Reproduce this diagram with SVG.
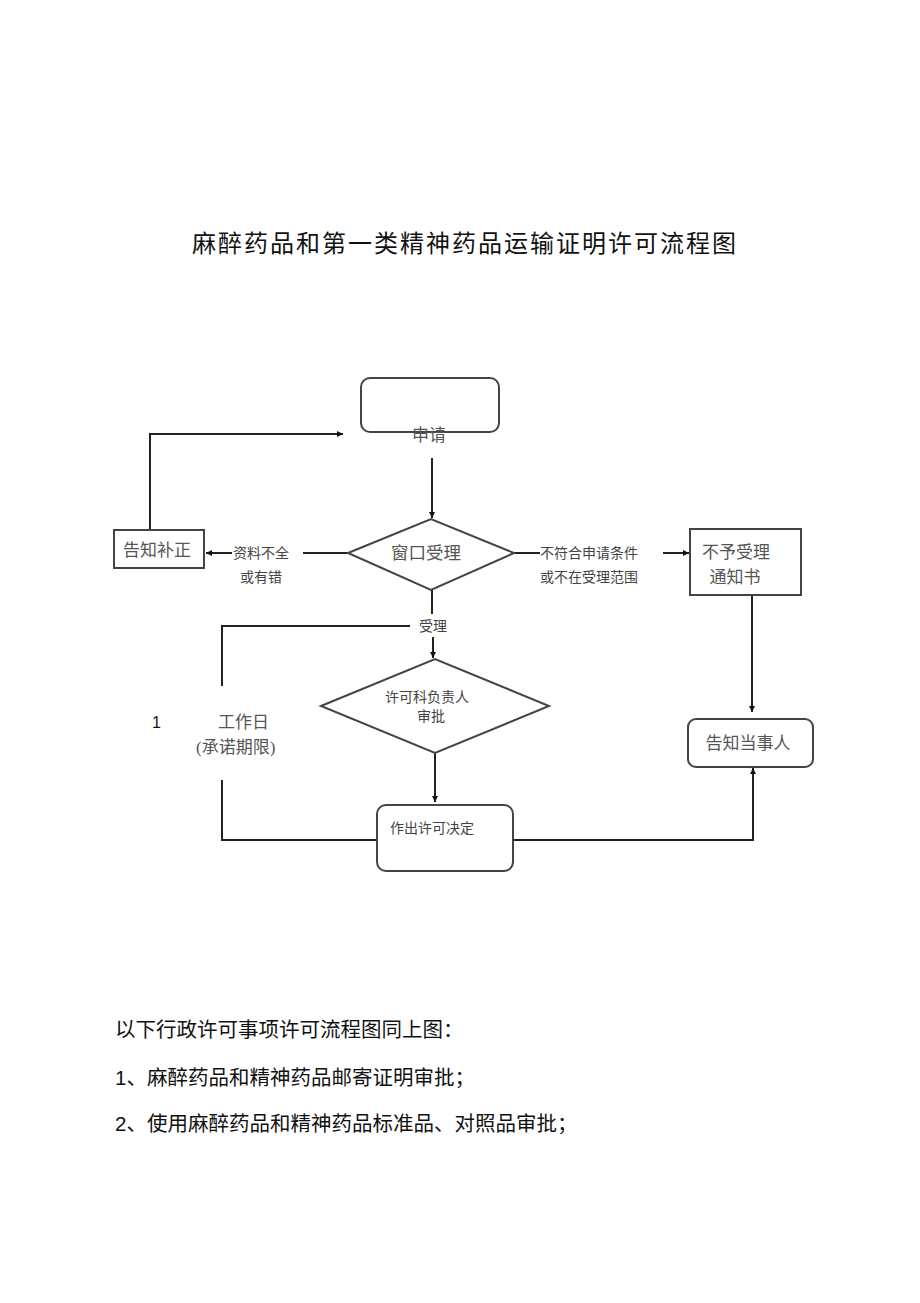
<svg xmlns="http://www.w3.org/2000/svg" width="920" height="1303" viewBox="0 0 920 1303">
<style>
.bg{fill:#fff}
.n{fill:#fff;stroke:#444;stroke-width:2}
.c{fill:none;stroke:#222;stroke-width:2}
.t{font-family:"Liberation Serif","Noto Sans CJK SC",serif;fill:#555}
.l{font-family:"Liberation Serif","Noto Sans CJK SC",serif;fill:#444;font-size:14px}
.s{font-family:"Liberation Sans","Noto Sans CJK SC",sans-serif;fill:#111;font-size:20.5px}
</style>
<defs>
<marker id="ah" viewBox="0 0 10 10" refX="10" refY="5" markerWidth="6" markerHeight="6" orient="auto" markerUnits="userSpaceOnUse">
<path d="M0,0 L10,5 L0,10 z" fill="#111"/>
</marker>
</defs>
<rect class="bg" x="0" y="0" width="920" height="1303"/>
<text x="464" y="252" text-anchor="middle" font-family="Liberation Serif,'Noto Sans CJK SC',serif" font-size="24" fill="#111" textLength="544" lengthAdjust="spacing">麻醉药品和第一类精神药品运输证明许可流程图</text>

<g id="connectors">
<line class="c" x1="432" y1="458" x2="432" y2="518" marker-end="url(#ah)"/>
<polyline class="c" points="348,553 303,553"/>
<line class="c" x1="232" y1="553" x2="206" y2="553" marker-end="url(#ah)"/>
<polyline class="c" points="150,530 150,434 343,434" marker-end="url(#ah)"/>
<polyline class="c" points="514,553 540,553"/>
<line class="c" x1="663" y1="553" x2="689" y2="553" marker-end="url(#ah)"/>
<line class="c" x1="752" y1="596" x2="752" y2="712" marker-end="url(#ah)"/>
<line class="c" x1="432" y1="590" x2="432" y2="614"/>
<line class="c" x1="433" y1="637" x2="433" y2="658" marker-end="url(#ah)"/>
<polyline class="c" points="410,626 222,626 222,686"/>
<polyline class="c" points="222,780 222,840 377,840"/>
<line class="c" x1="435" y1="753" x2="435" y2="802" marker-end="url(#ah)"/>
<polyline class="c" points="513,840 753,840 753,768" marker-end="url(#ah)"/>
<text class="l" x="233" y="558">资料不全</text>
<text class="l" x="240" y="582">或有错</text>
<text class="l" x="540" y="558">不符合申请条件</text>
<text class="l" x="540" y="582">或不在受理范围</text>
<text class="l" x="419" y="631">受理</text>
<text x="152" y="728" font-family="Liberation Sans,sans-serif" font-size="16" fill="#111">1</text>
<text class="t" x="218" y="728" font-size="17">工作日</text>
<text class="t" x="196" y="753" font-size="17">(承诺期限)</text>
</g>

<g id="node-apply">
<rect class="n" x="361" y="378" width="138" height="54" rx="9"/>
<text class="t" x="429" y="441" font-size="17" text-anchor="middle">申请</text>
</g>
<g id="node-window">
<polygon class="n" points="348,553 431,519 514,553 431,590"/>
<text class="t" x="426" y="559" font-size="17.5" text-anchor="middle">窗口受理</text>
</g>
<g id="node-correct">
<rect class="n" x="114" y="530" width="90" height="38"/>
<text class="t" x="157" y="556" font-size="17" text-anchor="middle">告知补正</text>
</g>
<g id="node-reject">
<rect class="n" x="690" y="529" width="111" height="66"/>
<text class="t" x="736" y="558" font-size="17" text-anchor="middle">不予受理</text>
<text class="t" x="735" y="583" font-size="17" text-anchor="middle">通知书</text>
</g>
<g id="node-notify">
<rect class="n" x="688" y="719" width="125" height="48" rx="8"/>
<text class="t" x="748" y="749" font-size="17" text-anchor="middle">告知当事人</text>
</g>
<g id="node-review">
<polygon class="n" points="321,706 435,659 549,706 435,753"/>
<text class="l" x="427" y="702" text-anchor="middle">许可科负责人</text>
<text class="l" x="431" y="721" text-anchor="middle">审批</text>
</g>
<g id="node-decide">
<rect class="n" x="377" y="805" width="136" height="66" rx="9"/>
<text class="l" x="390" y="833">作出许可决定</text>
</g>

<text class="s" x="115" y="1037">以下行政许可事项许可流程图同上图：</text>
<text class="s" x="115" y="1085">1、麻醉药品和精神药品邮寄证明审批；</text>
<text class="s" x="115" y="1131">2、使用麻醉药品和精神药品标准品、对照品审批；</text>
</svg>
